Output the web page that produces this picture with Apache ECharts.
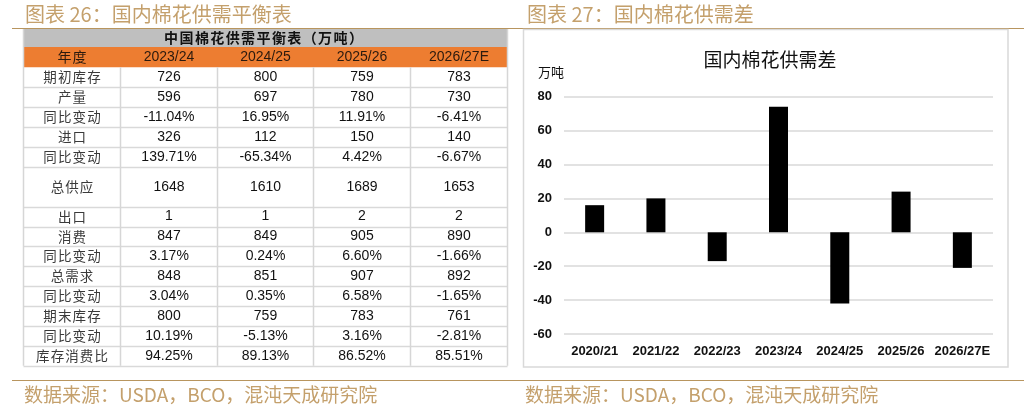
<!DOCTYPE html>
<html>
<head>
<meta charset="utf-8">
<script src="https://cdn.jsdelivr.net/npm/echarts@6/dist/echarts.min.js"></script>
<style>
  html, body { margin: 0; padding: 0; background: #fff; }
  #main { width: 1024px; height: 407px; }
</style>
</head>
<body>
<div id="main"></div>
<script>
// 表格数据（万吨）
var yearCols = ['2023/24', '2024/25', '2025/26', '2026/27E'];
var rowNames = ['期初库存', '产量', '同比变动', '进口', '同比变动', '总供应', '出口',
  '消费', '同比变动', '总需求', '同比变动', '期末库存', '同比变动', '库存消费比'];
var beginStock = ['726', '800', '759', '783'];
var output = ['596', '697', '780', '730'];
var outputYoy = ['-11.04%', '16.95%', '11.91%', '-6.41%'];
var imports = ['326', '112', '150', '140'];
var importsYoy = ['139.71%', '-65.34%', '4.42%', '-6.67%'];
var totalSupply = ['1648', '1610', '1689', '1653'];
var exportsVol = ['1', '1', '2', '2'];
var consumption = ['847', '849', '905', '890'];
var consumptionYoy = ['3.17%', '0.24%', '6.60%', '-1.66%'];
var totalDemand = ['848', '851', '907', '892'];
var demandYoy = ['3.04%', '0.35%', '6.58%', '-1.65%'];
var endStock = ['800', '759', '783', '761'];
var endStockYoy = ['10.19%', '-5.13%', '3.16%', '-2.81%'];
var stockRatio = ['94.25%', '89.13%', '86.52%', '85.51%'];

// 柱状图数据
var seasons = ['2020/21', '2021/22', '2022/23', '2023/24', '2024/25', '2025/26', '2026/27E'];
var balance = [16, 20, -17, 74, -42, 24, -21];

var rowValues = [beginStock, output, outputYoy, imports, importsYoy, totalSupply, exportsVol,
  consumption, consumptionYoy, totalDemand, demandYoy, endStock, endStockYoy, stockRatio];

var TAN = '#C4A06C';
var CJK = '"Noto Sans CJK SC", sans-serif';
var NUM = '"Liberation Sans", Arial, sans-serif';

// 表格布局
var colX = [23.5, 120.5, 217.5, 313.5, 410.5, 507.5];
var titleTop = 29, headTop = 47, bodyTop = 67.3, rowH = 19.9;

// 逐字排开的文字（模拟字间距）
function spacedText(str, cx, cy, pitch, style) {
  var chars = str.split('');
  var x0 = cx - pitch * (chars.length - 1) / 2;
  return chars.map(function (ch, i) {
    return { type: 'text', x: x0 + i * pitch, y: cy,
      style: Object.assign({ text: ch, align: 'center', verticalAlign: 'middle' }, style) };
  });
}

function buildTable() {
  var els = [];
  var left = colX[0], right = colX[colX.length - 1];
  var mid = function (i) { return (colX[i] + colX[i + 1]) / 2; };

  els.push({ type: 'rect', shape: { x: left, y: titleTop, width: right - left, height: headTop - titleTop },
    style: { fill: '#BFBFBF' } });
  els = els.concat(spacedText('中国棉花供需平衡表（万吨）', (left + right) / 2 - 2, (titleTop + headTop) / 2, 15.4,
    { fill: '#111', font: 'bold 14px ' + CJK }));

  els.push({ type: 'rect', shape: { x: left, y: headTop, width: right - left, height: bodyTop - headTop },
    style: { fill: '#ED7D31' } });
  els = els.concat(spacedText('年度', mid(0), (headTop + bodyTop) / 2, 15, { fill: '#2b1a0e', font: '14px ' + CJK }));
  yearCols.forEach(function (y, i) {
    els.push({ type: 'text', x: mid(i + 1), y: (headTop + bodyTop) / 2,
      style: { text: y, fill: '#2b1a0e', font: '14px ' + NUM, align: 'center', verticalAlign: 'middle' } });
  });

  var y = bodyTop;
  rowNames.forEach(function (name, r) {
    var h = name === '总供应' ? rowH * 2 : rowH;
    var cy = y + h / 2;
    els = els.concat(spacedText(name, mid(0), cy, 14.6, { fill: '#3a3a3a', font: '13.5px ' + CJK }));
    rowValues[r].forEach(function (v, c) {
      els.push({ type: 'text', x: mid(c + 1), y: cy,
        style: { text: v, fill: '#111', font: '14px ' + NUM, align: 'center', verticalAlign: 'middle' } });
    });
    y += h;
    els.push({ type: 'line', shape: { x1: left, y1: Math.round(y) + 0.5, x2: right, y2: Math.round(y) + 0.5 },
      style: { stroke: '#D9D9D9', lineWidth: 1.5 } });
  });
  var bottom = y;
  colX.forEach(function (x, i) {
    var top = (i === 0 || i === colX.length - 1) ? titleTop : bodyTop;
    els.push({ type: 'line', shape: { x1: x, y1: top, x2: x, y2: bottom },
      style: { stroke: '#D6D6D6', lineWidth: 1.5 } });
  });
  return els;
}

var frame = [
  { type: 'text', x: 25, y: 14, style: { text: '图表 26：国内棉花供需平衡表', fill: TAN, font: '20px ' + CJK, verticalAlign: 'middle' } },
  { type: 'text', x: 527, y: 14, style: { text: '图表 27：国内棉花供需差', fill: TAN, font: '20px ' + CJK, verticalAlign: 'middle' } },
  { type: 'line', shape: { x1: 12, y1: 28.5, x2: 1024, y2: 28.5 }, style: { stroke: '#B8955E', lineWidth: 1 } },
  { type: 'line', shape: { x1: 12, y1: 380.5, x2: 1024, y2: 380.5 }, style: { stroke: '#B8955E', lineWidth: 1 } },
  { type: 'text', x: 24, y: 395, style: { text: '数据来源：USDA，BCO，混沌天成研究院', fill: TAN, font: '19px ' + CJK, verticalAlign: 'middle' } },
  { type: 'text', x: 525, y: 395, style: { text: '数据来源：USDA，BCO，混沌天成研究院', fill: TAN, font: '19px ' + CJK, verticalAlign: 'middle' } },
  { type: 'rect', shape: { x: 523.5, y: 29.5, width: 484.5, height: 337.5 },
    style: { fill: 'none', stroke: '#D9D9D9', lineWidth: 1.5 } }
];

var myChart = echarts.init(document.getElementById('main'));
myChart.setOption({
  animation: false,
  title: {
    text: '国内棉花供需差',
    left: 765, top: 45, textAlign: 'center',
    textStyle: { fontFamily: CJK, fontSize: 19, fontWeight: 'normal', color: '#111' }
  },
  grid: { left: 564, right: 31, top: 96.7, bottom: 73, containLabel: false },
  xAxis: {
    type: 'category',
    data: seasons,
    axisLine: { show: false },
    axisTick: { show: false },
    axisLabel: { color: '#111', fontFamily: NUM, fontSize: 13, fontWeight: 'bold', margin: 11, interval: 0 }
  },
  yAxis: {
    type: 'value',
    min: -60, max: 80, interval: 20,
    name: '万吨',
    nameLocation: 'end',
    nameGap: 18,
    nameTextStyle: { fontFamily: CJK, fontSize: 13, color: '#111', align: 'right', padding: [0, 0, 0, 0] },
    axisLine: { show: false },
    axisTick: { show: false },
    axisLabel: { color: '#111', fontFamily: NUM, fontSize: 13, fontWeight: 'bold', margin: 12 },
    splitLine: { lineStyle: { color: '#D9D9D9', width: 1.5 } }
  },
  series: [{
    type: 'bar',
    data: balance,
    barWidth: 19,
    itemStyle: { color: '#000' }
  }],
  graphic: frame.concat(buildTable())
});
</script>
</body>
</html>
